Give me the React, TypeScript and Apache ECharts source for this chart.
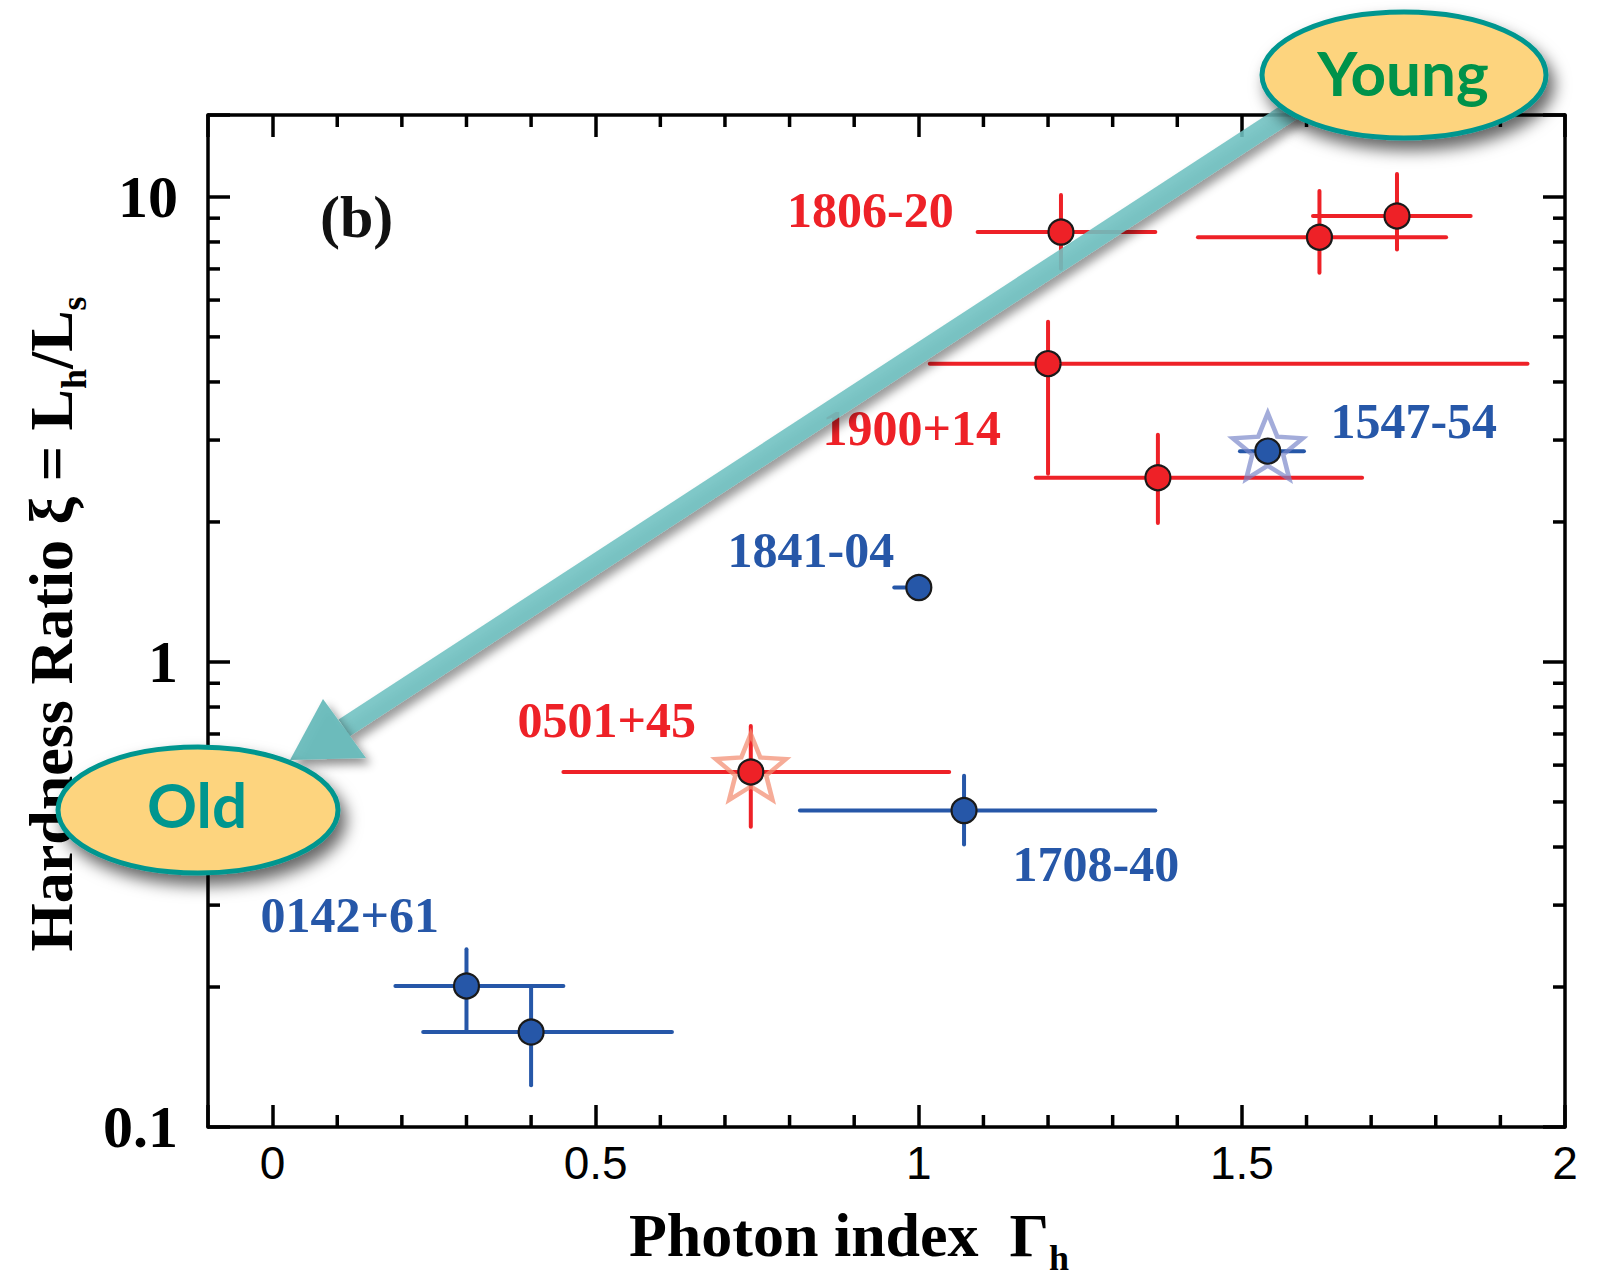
import React, { useEffect, useRef } from "react";
import * as echarts from "echarts";

const X_MIN = -0.1;
const X_MAX = 2;
const Y_MIN = 0.1;
const Y_MAX = 15;

const RED = "#EE2127";
const BLUE = "#2657A8";
const SERIF = "'Liberation Serif', 'Times New Roman', serif";
const SANS = "'Liberation Sans', Arial, sans-serif";

// Blue sources: 0142+61 (2 epochs), 1841-04, 1547-54, 1708-40
const blueX = [0.3, 0.4, 1.0, 1.54, 1.07];
const blueY = [0.201, 0.16, 1.445, 2.84, 0.479];
const blueXLo = [0.19, 0.233, 0.962, 1.497, 0.816];
const blueXHi = [0.45, 0.618, 1.0, 1.596, 1.366];
const blueYLo = [0.16, 0.123, 1.445, 2.84, 0.405];
const blueYHi = [0.241, 0.199, 1.445, 2.84, 0.569];

// Red sources: 1806-20 (3), 1900+14 (2), 0501+45
const redX = [1.22, 1.62, 1.74, 1.2, 1.37, 0.74];
const redY = [8.4, 8.19, 9.1, 4.38, 2.49, 0.58];
const redXLo = [1.091, 1.432, 1.61, 1.017, 1.181, 0.45];
const redXHi = [1.366, 1.816, 1.854, 1.942, 1.686, 1.047];
const redYLo = [7.01, 6.87, 7.71, 2.54, 1.99, 0.442];
const redYHi = [10.1, 10.3, 11.2, 5.39, 3.08, 0.728];

// Stars (transient sources)
const starX = [1.54, 0.74];
const starY = [2.84, 0.58];
const starColors = ["rgba(120,132,200,0.85)", "rgba(243,140,112,0.9)"];

// Text labels in data coordinates
const labelTexts = ["(b)", "1806-20", "1900+14", "1547-54", "1841-04", "0501+45", "1708-40", "0142+61"];
const labelX = [0.13, 0.925, 0.989, 1.766, 0.833, 0.517, 1.274, 0.1195];
const labelY = [9.06, 9.39, 3.19, 3.29, 1.74, 0.75, 0.368, 0.286];
const labelColors = ["#111", RED, RED, BLUE, BLUE, RED, BLUE, BLUE];
const labelSizes = [60, 50, 50, 50, 50, 50, 50, 50];

// Minor tick values
const xMinorTicks = [0.1, 0.2, 0.3, 0.4, 0.6, 0.7, 0.8, 0.9, 1.1, 1.2, 1.3, 1.4, 1.6, 1.7, 1.8, 1.9];
const yMinorTicks = [0.2, 0.3, 0.4, 0.5, 0.6, 0.7, 0.8, 0.9, 2, 3, 4, 5, 6, 7, 8, 9];

const STAR_PATH =
  "path://M50 0 L62.93 32.2 L97.55 34.55 L70.92 56.8 L79.39 90.45 L50 72 L20.61 90.45 L29.08 56.8 L2.45 34.55 L37.07 32.2 Z";

function errorBarRenderer(color: string) {
  return (params: any, api: any) => {
    const x = api.value(0);
    const y = api.value(1);
    const l = api.coord([api.value(2), y]);
    const r = api.coord([api.value(3), y]);
    const b = api.coord([x, api.value(4)]);
    const t = api.coord([x, api.value(5)]);
    const style = { stroke: color, lineWidth: 4, lineCap: "round" };
    const children: any[] = [];
    if (r[0] - l[0] > 0.5) {
      children.push({ type: "line", shape: { x1: l[0], y1: l[1], x2: r[0], y2: r[1] }, style });
    }
    if (b[1] - t[1] > 0.5) {
      children.push({ type: "line", shape: { x1: t[0], y1: t[1], x2: b[0], y2: b[1] }, style });
    }
    return { type: "group", children };
  };
}

const tickStyle = { stroke: "#000", lineWidth: 3.5 };
const MINOR = 12;

const titleRich = {
  m: { fontSize: 62, fontWeight: "bold", fontFamily: SERIF, fill: "#000", lineHeight: 72, verticalAlign: "top" },
  s: { fontSize: 36, fontWeight: "bold", fontFamily: SERIF, fill: "#000", lineHeight: 72, verticalAlign: "bottom" },
};

export default function App() {
  const ref = useRef<HTMLDivElement>(null);

  useEffect(() => {
    if (!ref.current) return;
    const chart = echarts.init(ref.current, undefined, { renderer: "svg" });

    const blueRows = blueX.map((x, i) => [x, blueY[i], blueXLo[i], blueXHi[i], blueYLo[i], blueYHi[i]]);
    const redRows = redX.map((x, i) => [x, redY[i], redXLo[i], redXHi[i], redYLo[i], redYHi[i]]);

    const axisLine = { show: true, onZero: false, lineStyle: { color: "#000", width: 3.5 } };
    const axisTick = { show: true, inside: true, length: 22, lineStyle: { color: "#000", width: 3.5 } };

    const xFmt = (v: number) => (Math.abs(v * 2 - Math.round(v * 2)) < 1e-6 ? String(Math.round(v * 10) / 10) : "");
    const yFmt = (v: number) => {
      const lg = Math.log10(v);
      if (Math.abs(lg - Math.round(lg)) > 1e-6) return "";
      return v < 1 ? v.toFixed(1) : String(Math.round(v));
    };

    const shaftStart = [1300, 105];
    const shaftEnd = [344, 728];

    const option: any = {
      animation: false,
      backgroundColor: "#fff",
      grid: { left: 208, right: 32, top: 115, bottom: 153 },
      xAxis: [
        {
          type: "value",
          min: X_MIN,
          max: X_MAX,
          position: "bottom",
          axisLine,
          axisTick,
          splitLine: { show: false },
          axisLabel: { formatter: xFmt, fontSize: 46, fontFamily: SANS, color: "#000", margin: 13 },
        },
        {
          type: "value",
          min: X_MIN,
          max: X_MAX,
          position: "top",
          axisLine,
          axisTick,
          splitLine: { show: false },
          axisLabel: { show: false },
        },
      ],
      yAxis: [
        {
          type: "log",
          logBase: 10,
          min: Y_MIN,
          max: Y_MAX,
          position: "left",
          axisLine,
          axisTick,
          splitLine: { show: false },
          axisLabel: {
            formatter: yFmt,
            fontSize: 60,
            fontWeight: "bold",
            fontFamily: SERIF,
            color: "#000",
            margin: 30,
          },
        },
        {
          type: "log",
          logBase: 10,
          min: Y_MIN,
          max: Y_MAX,
          position: "right",
          axisLine,
          axisTick,
          splitLine: { show: false },
          axisLabel: { show: false },
        },
      ],
      series: [
        {
          type: "custom",
          name: "xMinor",
          silent: true,
          data: xMinorTicks.map((v) => [v, Y_MIN]),
          encode: { x: 0, y: 1 },
          renderItem: (params: any, api: any) => {
            const v = api.value(0);
            const b = api.coord([v, Y_MIN]);
            const t = api.coord([v, Y_MAX]);
            return {
              type: "group",
              children: [
                { type: "line", shape: { x1: b[0], y1: b[1], x2: b[0], y2: b[1] - MINOR }, style: tickStyle },
                { type: "line", shape: { x1: t[0], y1: t[1], x2: t[0], y2: t[1] + MINOR }, style: tickStyle },
              ],
            };
          },
          z: 1,
        },
        {
          type: "custom",
          name: "yMinor",
          silent: true,
          data: yMinorTicks.map((v) => [X_MIN, v]),
          encode: { x: 0, y: 1 },
          renderItem: (params: any, api: any) => {
            const v = api.value(1);
            const l = api.coord([X_MIN, v]);
            const r = api.coord([X_MAX, v]);
            return {
              type: "group",
              children: [
                { type: "line", shape: { x1: l[0], y1: l[1], x2: l[0] + MINOR, y2: l[1] }, style: tickStyle },
                { type: "line", shape: { x1: r[0], y1: r[1], x2: r[0] - MINOR, y2: r[1] }, style: tickStyle },
              ],
            };
          },
          z: 1,
        },
        {
          type: "custom",
          name: "blueErr",
          silent: true,
          data: blueRows,
          encode: { x: 0, y: 1 },
          renderItem: errorBarRenderer(BLUE),
          z: 2,
        },
        {
          type: "custom",
          name: "redErr",
          silent: true,
          data: redRows,
          encode: { x: 0, y: 1 },
          renderItem: errorBarRenderer(RED),
          z: 2,
        },
        {
          type: "scatter",
          name: "stars",
          silent: true,
          symbol: STAR_PATH,
          symbolSize: [70, 66],
          symbolOffset: [0, -5],
          data: starX.map((x, i) => ({
            value: [x, starY[i]],
            itemStyle: { color: "rgba(0,0,0,0)", borderColor: starColors[i], borderWidth: 4.5 },
          })),
          z: 3,
        },
        {
          type: "scatter",
          name: "blue",
          silent: true,
          symbol: "circle",
          symbolSize: 25,
          itemStyle: { color: BLUE, borderColor: "#1a1a1a", borderWidth: 2.2, opacity: 1 },
          data: blueX.map((x, i) => [x, blueY[i]]),
          z: 4,
        },
        {
          type: "scatter",
          name: "red",
          silent: true,
          symbol: "circle",
          symbolSize: 25,
          itemStyle: { color: RED, borderColor: "#1a1a1a", borderWidth: 2.2, opacity: 1 },
          data: redX.map((x, i) => [x, redY[i]]),
          z: 4,
        },
        {
          type: "custom",
          name: "labels",
          silent: true,
          data: labelX.map((x, i) => [x, labelY[i]]),
          encode: { x: 0, y: 1 },
          renderItem: (params: any, api: any) => {
            const i = params.dataIndex;
            const p = api.coord([api.value(0), api.value(1)]);
            return {
              type: "text",
              x: p[0],
              y: p[1],
              style: {
                text: labelTexts[i],
                fill: labelColors[i],
                fontSize: labelSizes[i],
                fontWeight: "bold",
                fontFamily: SERIF,
                align: "center",
                textAlign: "center",
                verticalAlign: "middle",
                textVerticalAlign: "middle",
              },
            };
          },
          z: 5,
        },
      ],
      graphic: [
        // x-axis title
        {
          type: "text",
          x: 849,
          y: 1240,
          z: 50,
          style: {
            text: "{m|Photon index  Γ}{s|h}",
            align: "center",
            textAlign: "center",
            verticalAlign: "middle",
            textVerticalAlign: "middle",
            rich: titleRich,
          },
        },
        // y-axis title
        {
          type: "text",
          x: 56,
          y: 624,
          rotation: Math.PI / 2,
          z: 50,
          style: {
            text: "{m|Hardness Ratio ξ = L}{s|h}{m|/L}{s|s}",
            align: "center",
            textAlign: "center",
            verticalAlign: "middle",
            textVerticalAlign: "middle",
            rich: titleRich,
          },
        },
        // arrow shaft
        {
          type: "polyline",
          z: 80,
          shape: { points: [shaftStart, shaftEnd] },
          style: {
            stroke: "rgba(112,194,194,0.88)",
            lineWidth: 20,
            shadowBlur: 10,
            shadowColor: "rgba(0,0,0,0.45)",
            shadowOffsetX: 5,
            shadowOffsetY: 6,
          },
        },
        // arrow head
        {
          type: "polygon",
          z: 81,
          shape: {
            points: [
              [290, 760],
              [323, 699],
              [366, 758],
            ],
          },
          style: {
            fill: "rgba(104,186,186,0.95)",
            shadowBlur: 10,
            shadowColor: "rgba(0,0,0,0.45)",
            shadowOffsetX: 5,
            shadowOffsetY: 6,
          },
        },
        // Young ellipse
        {
          type: "ellipse",
          z: 90,
          shape: { cx: 1404, cy: 75, rx: 142, ry: 63 },
          style: {
            fill: "#FDD47E",
            stroke: "#00968F",
            lineWidth: 5,
            shadowBlur: 16,
            shadowColor: "rgba(0,0,0,0.6)",
            shadowOffsetX: 6,
            shadowOffsetY: 10,
          },
        },
        {
          type: "text",
          z: 91,
          x: 1403,
          y: 72,
          style: {
            text: "Young",
            fill: "#00924A",
            fontSize: 62,
            fontWeight: "bold",
            fontFamily: "Lato, 'Noto Sans', sans-serif",
            align: "center",
            textAlign: "center",
            verticalAlign: "middle",
            textVerticalAlign: "middle",
          },
        },
        // Old ellipse
        {
          type: "ellipse",
          z: 90,
          shape: { cx: 198, cy: 810, rx: 140, ry: 63 },
          style: {
            fill: "#FDD47E",
            stroke: "#00968F",
            lineWidth: 5,
            shadowBlur: 16,
            shadowColor: "rgba(0,0,0,0.6)",
            shadowOffsetX: 6,
            shadowOffsetY: 10,
          },
        },
        {
          type: "text",
          z: 91,
          x: 197,
          y: 804,
          style: {
            text: "Old",
            fill: "#00968F",
            fontSize: 62,
            fontWeight: "bold",
            fontFamily: "Lato, 'Noto Sans', sans-serif",
            align: "center",
            textAlign: "center",
            verticalAlign: "middle",
            textVerticalAlign: "middle",
          },
        },
      ],
    };

    chart.setOption(option);
    return () => {
      chart.dispose();
    };
  }, []);

  return (
    <div
      ref={ref}
      style={{ position: "fixed", left: 0, top: 0, width: 1597, height: 1280, background: "#fff" }}
    />
  );
}
